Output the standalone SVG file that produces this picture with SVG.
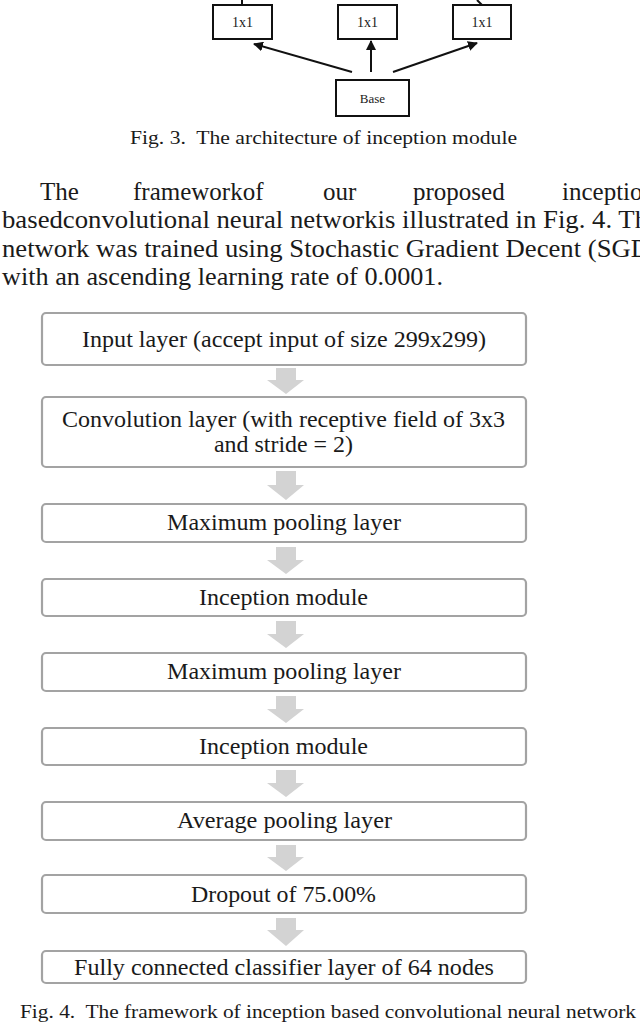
<svg xmlns="http://www.w3.org/2000/svg" width="640" height="1024" viewBox="0 0 640 1024">
<style>
text{font-family:"Liberation Serif","Times New Roman",serif;fill:#1a1a1a;white-space:pre}
.sm{stroke:#111;stroke-width:2;fill:#fff}
.ln{stroke:#111;stroke-width:2;fill:none}
.bx{stroke:#a3a3a3;stroke-width:2.2;fill:#fff}
.ar{fill:#d3d3d3}
.t{font-size:23px}
.p{font-size:25px}
.cap{font-size:19.5px}
</style>
<defs>
<marker id="ah" viewBox="0 0 10 10" refX="9" refY="5" markerWidth="5" markerHeight="5" orient="auto" markerUnits="strokeWidth">
<path d="M0,0 L10,5 L0,10 z" fill="#111"/>
</marker>
</defs>
<g id="top-connectors">
<line class="ln" x1="242" y1="0" x2="242" y2="4"/>
<line class="ln" x1="477" y1="0" x2="482" y2="5"/>
<line class="ln" x1="352" y1="72" x2="254" y2="44" marker-end="url(#ah)"/>
<line class="ln" x1="371" y1="72" x2="371" y2="41" marker-end="url(#ah)"/>
<line class="ln" x1="393" y1="72" x2="477" y2="43" marker-end="url(#ah)"/>
</g>
<g id="n1x1a"><rect class="sm" x="213" y="5" width="59" height="34"/><text x="242.5" y="27" font-size="14" text-anchor="middle">1x1</text></g>
<g id="n1x1b"><rect class="sm" x="338" y="5" width="59" height="34"/><text x="367.5" y="27" font-size="14" text-anchor="middle">1x1</text></g>
<g id="n1x1c"><rect class="sm" x="453" y="5" width="58" height="34"/><text x="482" y="27" font-size="14" text-anchor="middle">1x1</text></g>
<g id="nbase"><rect class="sm" x="336" y="80" width="73" height="36"/><text x="372.5" y="103" font-size="13" text-anchor="middle">Base</text></g>
<text class="cap" x="130" y="144" textLength="387" lengthAdjust="spacingAndGlyphs" xml:space="preserve">Fig. 3.  The architecture of inception module</text>
<g id="para">
<text class="p" x="40" y="200">The</text>
<text class="p" x="133" y="200">frameworkof</text>
<text class="p" x="323" y="200">our</text>
<text class="p" x="413" y="200">proposed</text>
<text class="p" x="562" y="200">inceptio</text>
<text class="p" x="2" y="228" textLength="646" lengthAdjust="spacingAndGlyphs">basedconvolutional neural networkis illustrated in Fig. 4. Th</text>
<text class="p" x="2" y="257" textLength="648" lengthAdjust="spacingAndGlyphs">network was trained using Stochastic Gradient Decent (SGD</text>
<text class="p" x="2" y="285" textLength="441" lengthAdjust="spacingAndGlyphs">with an ascending learning rate of 0.0001.</text>
</g>
<g id="connectors">
<path class="ar" d="M276,368 H296 V380 H304 L286,394 L267,380 H276 Z"/>
<path class="ar" d="M276,471 H296 V485 H304 L286,500 L267,485 H276 Z"/>
<path class="ar" d="M276,547 H296 V560 H304 L286,574 L267,560 H276 Z"/>
<path class="ar" d="M276,621 H296 V634 H304 L286,648 L267,634 H276 Z"/>
<path class="ar" d="M276,696 H296 V709 H304 L286,723 L267,709 H276 Z"/>
<path class="ar" d="M276,770 H296 V783 H304 L286,797 L267,783 H276 Z"/>
<path class="ar" d="M276,845 H296 V857 H304 L286,871 L267,857 H276 Z"/>
<path class="ar" d="M276,918 H296 V930 H304 L286,946 L267,930 H276 Z"/>
</g>
<g id="input"><rect class="bx" x="42" y="313" width="484" height="52" rx="4"/><text class="t" x="82" y="347" textLength="404" lengthAdjust="spacingAndGlyphs">Input layer (accept input of size 299x299)</text></g>
<g id="conv"><rect class="bx" x="42" y="397" width="484" height="70" rx="4"/><text class="t" x="62" y="427" textLength="443" lengthAdjust="spacingAndGlyphs">Convolution layer (with receptive field of 3x3</text><text class="t" x="214" y="452" textLength="139" lengthAdjust="spacingAndGlyphs">and stride = 2)</text></g>
<g id="maxpool1"><rect class="bx" x="42" y="504" width="484" height="38" rx="4"/><text class="t" x="167" y="530" textLength="234" lengthAdjust="spacingAndGlyphs">Maximum pooling layer</text></g>
<g id="incep1"><rect class="bx" x="42" y="579" width="484" height="37" rx="4"/><text class="t" x="199" y="605" textLength="169" lengthAdjust="spacingAndGlyphs">Inception module</text></g>
<g id="maxpool2"><rect class="bx" x="42" y="653" width="484" height="38" rx="4"/><text class="t" x="167" y="679" textLength="234" lengthAdjust="spacingAndGlyphs">Maximum pooling layer</text></g>
<g id="incep2"><rect class="bx" x="42" y="728" width="484" height="37" rx="4"/><text class="t" x="199" y="754" textLength="169" lengthAdjust="spacingAndGlyphs">Inception module</text></g>
<g id="avgpool"><rect class="bx" x="42" y="802" width="484" height="38" rx="4"/><text class="t" x="177" y="828" textLength="215" lengthAdjust="spacingAndGlyphs">Average pooling layer</text></g>
<g id="dropout"><rect class="bx" x="42" y="875" width="484" height="38" rx="4"/><text class="t" x="191" y="902" textLength="185" lengthAdjust="spacingAndGlyphs">Dropout of 75.00%</text></g>
<g id="fc"><rect class="bx" x="42" y="951" width="484" height="32" rx="4"/><text class="t" x="74" y="975" textLength="420" lengthAdjust="spacingAndGlyphs">Fully connected classifier layer of 64 nodes</text></g>
<text class="cap" x="20" y="1018" textLength="616" lengthAdjust="spacingAndGlyphs" xml:space="preserve">Fig. 4.  The framework of inception based convolutional neural network</text>
</svg>
